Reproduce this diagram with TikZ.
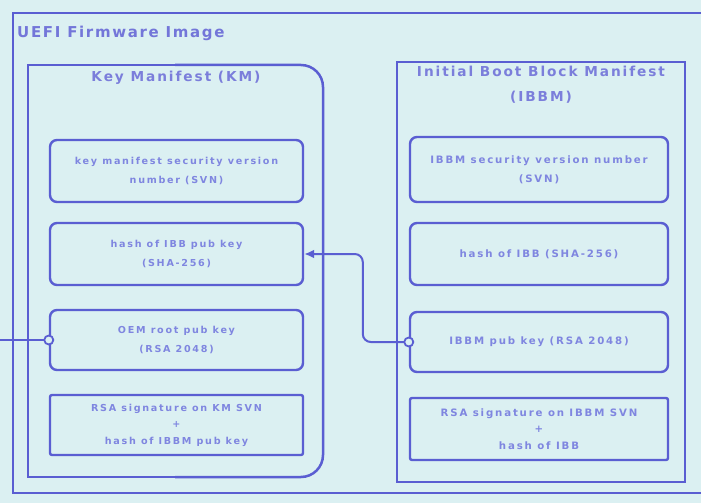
\documentclass[tikz,border=0pt]{standalone}
\usepackage{fontspec}
\setmainfont{DejaVu Sans}
\newfontfamily\headfont{DejaVu Sans}[LetterSpace=14]
\newfontfamily\titlefont{DejaVu Sans}[LetterSpace=11]
\newfontfamily\bodyfont{DejaVu Sans}[LetterSpace=18]
\usetikzlibrary{arrows.meta}
\definecolor{bg}{HTML}{DBF0F2}
\definecolor{ink}{HTML}{5A5ED2}
\definecolor{txt}{HTML}{7F86E0}
\tikzset{
  frame/.style={draw=ink, line width=2.5pt},
  item/.style={draw=ink, line width=2.4pt, rounded corners=7pt,
    minimum height=62pt, align=center, inner sep=0pt, text=txt,
    font=\bodyfont\bfseries\fontsize{9.6}{19}\selectfont},
  kmitem/.style={item, minimum width=253pt},
  ibitem/.style={item, minimum width=258pt,
    font=\bodyfont\bfseries\fontsize{10.2}{19}\selectfont},
  sigitem/.style={rounded corners=2pt, font=\bodyfont\bfseries\fontsize{9.6}{16.5}\selectfont},
  headtxt/.style={text=ink!85, font=\titlefont\bfseries\fontsize{15}{16}\selectfont, inner sep=0pt},
  subhead/.style={text=ink!80, font=\headfont\bfseries\fontsize{13.7}{25}\selectfont, inner sep=0pt, align=center},
  conn/.style={draw=ink, line width=2pt, rounded corners=8pt},
  port/.style={draw=ink, line width=1.8pt, fill=bg},
}
\begin{document}
\begin{tikzpicture}[x=1pt, y=-1pt]
  \fill[bg] (0,0) rectangle (701,503);
  \useasboundingbox (0,0) rectangle (701,503);
  \clip (0,0) rectangle (701,503);

  % firmware image frame (runs past the right edge)
  \draw[frame] (712,13) -- (13,13) -- (13,493) -- (712,493);
  \node[headtxt, anchor=west] (uefi) at (17,33) {UEFI Firmware Image};

  % key manifest container
  \draw[frame] (175,65) -- (28,65) -- (28,477) -- (175,477);
  \draw[frame, rounded corners=22pt] (175,65) -- (323,65) -- (323,477) -- (175,477);
  \node[subhead] (kmtitle) at (176,78) {Key Manifest (KM)};

  % initial boot block manifest container
  \draw[frame] (397,62) rectangle (685,482);
  \node[subhead] (ibtitle) at (541,85) {Initial Boot Block Manifest\\(IBBM)};

  % key manifest fields
  \node[kmitem] (kmA) at (176.5,171) {key manifest security version\\number (SVN)};
  \node[kmitem] (kmB) at (176.5,254) {hash of IBB pub key\\(SHA-256)};
  \node[kmitem, minimum height=60pt] (kmC) at (176.5,340) {OEM root pub key\\(RSA 2048)};
  \node[kmitem, sigitem, minimum height=60pt] (kmD) at (176.5,425) {RSA signature on KM SVN\\+\\hash of IBBM pub key};

  % initial boot block manifest fields
  \node[ibitem, minimum height=65pt] (ibA) at (539,169.5) {IBBM security version number\\(SVN)};
  \node[ibitem] (ibB) at (539,254) {hash of IBB (SHA-256)};
  \node[ibitem, minimum height=60pt] (ibC) at (539,342) {IBBM pub key (RSA 2048)};
  \node[ibitem, sigitem, font=\bodyfont\bfseries\fontsize{10.2}{16.5}\selectfont] (ibD) at (539,429) {RSA signature on IBBM SVN\\+\\hash of IBB};

  % connectors
  \draw[conn, -{Latex[length=10pt,width=9pt]}] (ibC.west) -- ++(-46,0) |- (kmB.east);
  \draw[port] (ibC.west) circle[radius=4.5pt];

  \coordinate (ext) at (0,340);
  \draw[conn] (ext) -- (kmC.west);
  \draw[port] (kmC.west) circle[radius=4.5pt];
\end{tikzpicture}
\end{document}
